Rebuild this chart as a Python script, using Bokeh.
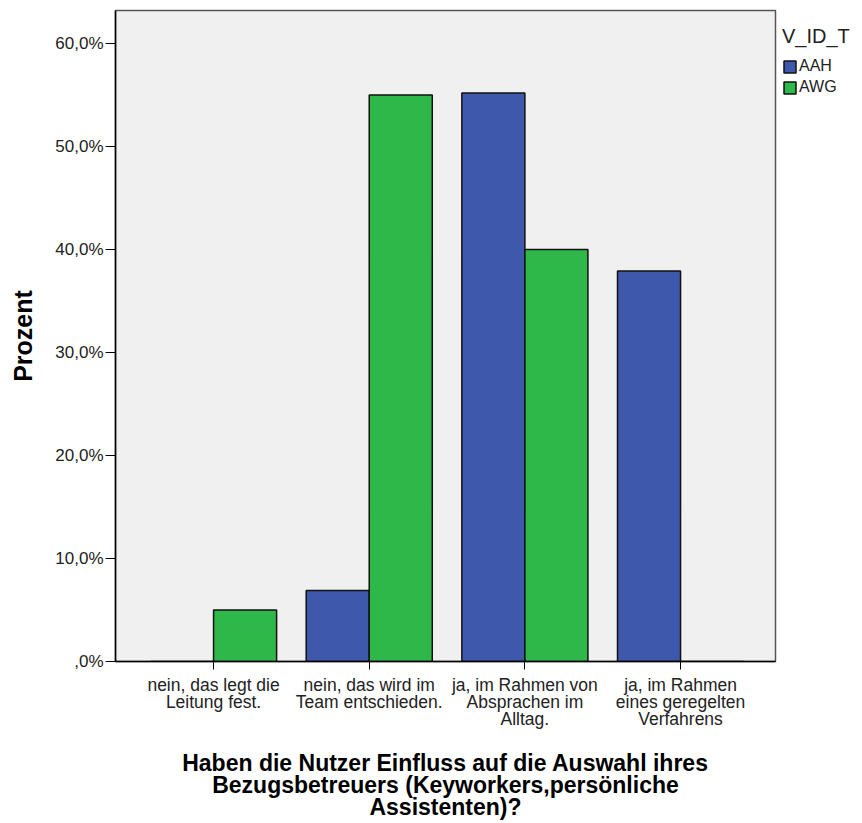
from bokeh.plotting import figure
from bokeh.models import FixedTicker, Legend, LegendItem, Range1d
from bokeh.embed import file_html
from bokeh.resources import INLINE

categories = [
    "nein, das legt die\nLeitung fest.",
    "nein, das wird im\nTeam entschieden.",
    "ja, im Rahmen von\nAbsprachen im\nAlltag.",
    "ja, im Rahmen\neines geregelten\nVerfahrens",
]
aah = [0.0, 6.9, 55.2, 37.9]
awg = [5.0, 55.0, 40.0, 0.0]
series_names = ["AAH", "AWG"]
y_ticks = [0, 10, 20, 30, 40, 50, 60]
y_tick_labels = [",0%", "10,0%", "20,0%", "30,0%", "40,0%", "50,0%", "60,0%"]
x_title = "Haben die Nutzer Einfluss auf die Auswahl ihres\nBezugsbetreuers (Keyworkers,persönliche\nAssistenten)?"
y_title = "Prozent"
legend_title = "V_ID_T"

FONT = "Liberation Sans"
BLUE = "#3e58ab"
GREEN = "#2eb84a"

xs = list(range(len(categories)))
bw = 0.405

p = figure(frame_width=660, frame_height=651, output_backend="svg", toolbar_location=None,
           x_range=Range1d(-0.63, 3.61), y_range=Range1d(0, 63.2),
           min_border_left=115, min_border_top=10, min_border_right=86, min_border_bottom=158)

p.background_fill_color = "#f0f0f0"
p.border_fill_color = "white"
p.outline_line_color = "#555555"
p.outline_line_width = 1.5
p.xgrid.visible = False
p.ygrid.visible = False

r1 = p.vbar(x=[x - bw / 2 for x in xs], top=aah, bottom=0, width=bw,
            fill_color=BLUE, line_color="#111111", line_width=1.5)
r2 = p.vbar(x=[x + bw / 2 for x in xs], top=awg, bottom=0, width=bw,
            fill_color=GREEN, line_color="#111111", line_width=1.5)

# y axis
p.yaxis.ticker = FixedTicker(ticks=y_ticks)
p.yaxis.major_label_overrides = {t: l for t, l in zip(y_ticks, y_tick_labels)}
p.yaxis.minor_tick_line_color = None
p.yaxis.major_tick_out = 10
p.yaxis.major_tick_in = 0
p.yaxis.major_label_standoff = 2
p.yaxis.major_label_text_font = FONT
p.yaxis.major_label_text_font_size = "17px"
p.yaxis.major_label_text_color = "#222222"
p.yaxis.axis_line_color = "black"
p.yaxis.axis_line_width = 1.5
p.yaxis.major_tick_line_color = "black"
p.yaxis.axis_label = y_title
p.yaxis.axis_label_text_font = FONT
p.yaxis.axis_label_text_font_style = "bold"
p.yaxis.axis_label_text_font_size = "25px"
p.yaxis.axis_label_text_color = "black"
p.yaxis.axis_label_standoff = 15

# x axis
p.xaxis.ticker = FixedTicker(ticks=xs)
p.xaxis.major_label_overrides = {x: c for x, c in zip(xs, categories)}
p.xaxis.minor_tick_line_color = None
p.xaxis.major_tick_out = 8
p.xaxis.major_tick_in = 0
p.xaxis.major_label_standoff = 5
p.xaxis.major_label_text_font = FONT
p.xaxis.major_label_text_font_size = "17.5px"
p.xaxis.major_label_text_color = "#222222"
p.xaxis.major_label_text_line_height = 0.86
p.xaxis.axis_line_color = "black"
p.xaxis.axis_line_width = 1.5
p.xaxis.major_tick_line_color = "black"
p.xaxis.axis_label = x_title
p.xaxis.axis_label_text_font = FONT
p.xaxis.axis_label_text_font_style = "bold"
p.xaxis.axis_label_text_font_size = "23px"
p.xaxis.axis_label_text_color = "black"
p.xaxis.axis_label_text_line_height = 0.84
p.xaxis.axis_label_standoff = 18

legend = Legend(items=[LegendItem(label=series_names[0], renderers=[r1]),
                       LegendItem(label=series_names[1], renderers=[r2])],
                location=(7, 565), title=legend_title)
legend.title_text_font = FONT
legend.title_text_font_size = "20px"
legend.title_text_font_style = "normal"
legend.title_text_color = "#222222"
legend.title_standoff = 9
legend.label_text_font = FONT
legend.label_text_font_size = "16px"
legend.label_text_color = "#222222"
legend.label_standoff = 2
legend.label_height = 15
legend.glyph_width = 15
legend.glyph_height = 15
legend.spacing = 3
legend.padding = 0
legend.margin = 0
legend.border_line_color = None
legend.background_fill_alpha = 0
p.add_layout(legend, "right")

open("out.html", "w").write(file_html(p, INLINE))
